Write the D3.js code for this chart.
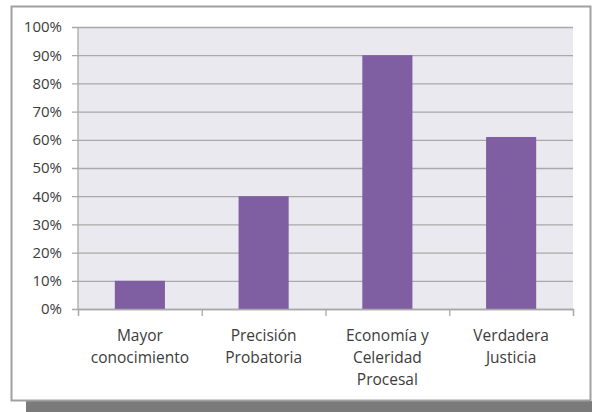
<!DOCTYPE html>
<html>
<head>
<meta charset="utf-8">
<script src="https://cdn.jsdelivr.net/npm/d3@7"></script>
<style>
  body { margin: 0; background: #fff; }
  text { font-family: "Open Sans", sans-serif; fill: #3c3c3c; }
</style>
</head>
<body>
<div id="chart-area"></div>
<script>
// data
let categories = ["Mayor\nconocimiento", "Precisión\nProbatoria", "Economía y\nCeleridad\nProcesal", "Verdadera\nJusticia"]
let values = [10, 40, 90, 61]
let yTicks = [0, 10, 20, 30, 40, 50, 60, 70, 80, 90, 100]

let width = 592
let height = 412
let plot = {left: 78, top: 27, right: 573, bottom: 309}

let svg = d3.select("#chart-area")
  .append("svg")
    .attr("width", width)
    .attr("height", height)

// shadow and frame
svg.append("rect")
  .attr("x", 26).attr("y", 401)
  .attr("width", width - 26).attr("height", 11)
  .attr("fill", "#7a7a7a")
svg.append("rect")
  .attr("x", 11.5).attr("y", 6.5)
  .attr("width", 579).attr("height", 394)
  .attr("fill", "#fff")
  .attr("stroke", "#a0a0a0")
  .attr("stroke-width", 2)

let y = d3.scaleLinear().domain([0, 100]).range([plot.bottom, plot.top])
let x = d3.scaleBand().domain(categories).range([plot.left, plot.right])
  .paddingInner(0.595).paddingOuter(0.2975)
let xEdge = d3.scaleLinear().domain([0, categories.length]).range([plot.left, plot.right])

let g = svg.append("g")

g.append("rect")
  .attr("x", plot.left).attr("y", plot.top)
  .attr("width", plot.right - plot.left).attr("height", plot.bottom - plot.top)
  .attr("fill", "#ebe9f0")

// y axis with gridlines
let leftAxis = d3.axisLeft(y).tickValues(yTicks).tickFormat(d => d + "%")
  .tickSize(-(plot.right - plot.left)).tickPadding(16)
let ya = g.append("g")
  .attr("class", "left axis")
  .attr("transform", "translate(" + plot.left + ",0)")
  .call(leftAxis)
ya.select(".domain").remove()
ya.selectAll("line").attr("stroke", "#a9a9a9").attr("stroke-width", 1.3)
  .attr("x1", -6)
ya.selectAll("text").attr("font-size", "15px")

g.append("line")
  .attr("x1", plot.left).attr("x2", plot.left)
  .attr("y1", plot.top).attr("y2", plot.bottom)
  .attr("stroke", "#a9a9a9").attr("stroke-width", 1.3)

// bars
g.selectAll("rect.bar").data(values)
  .enter()
  .append("rect")
    .attr("class", "bar")
    .attr("x", (d, i) => x(categories[i]))
    .attr("y", d => y(d))
    .attr("width", x.bandwidth())
    .attr("height", d => y(0) - y(d))
    .attr("fill", "#7f5fa1")

// x axis: ticks at category boundaries
let edgeAxis = d3.axisBottom(xEdge).ticks(categories.length).tickFormat("").tickSize(7)
let xa = g.append("g")
  .attr("class", "bottom axis")
  .attr("transform", "translate(0," + plot.bottom + ")")
  .call(edgeAxis)
xa.select(".domain").attr("stroke", "#a9a9a9").attr("stroke-width", 1.3)
xa.selectAll("line").attr("stroke", "#a9a9a9").attr("stroke-width", 1.3)

// category labels
let labels = g.selectAll("text.cat").data(categories)
  .enter()
  .append("text")
    .attr("class", "cat")
    .attr("text-anchor", "middle")
    .attr("font-size", "15.5px")
    .attr("x", d => x(d) + x.bandwidth() / 2)
    .attr("y", plot.bottom + 32)

labels.selectAll("tspan").data(d => d.split("\n"))
  .enter()
  .append("tspan")
    .attr("x", function() { return this.parentNode.getAttribute("x") })
    .attr("dy", (d, i) => i === 0 ? 0 : 22)
    .text(d => d)
</script>
</body>
</html>
